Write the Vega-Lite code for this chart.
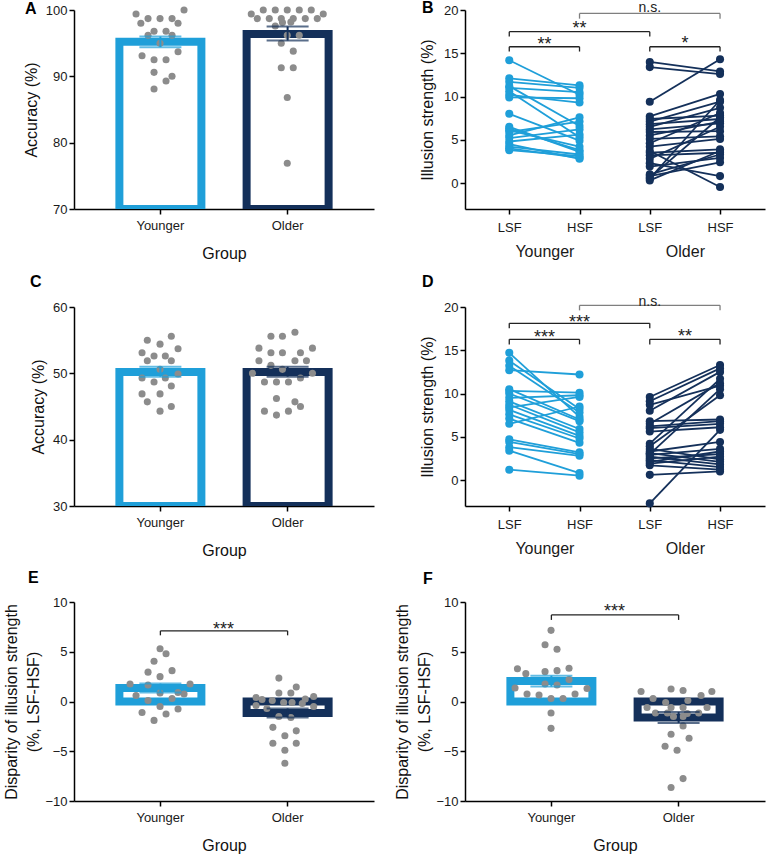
{
"$schema":"https://vega.github.io/schema/vega-lite/v6.json",
"padding":{"left":3,"top":0,"right":4,"bottom":2},
"background":"white",
"config":{"view":{"stroke":null},"font":"Liberation Sans",
 "axis":{"grid":false,"domainColor":"#000","domainWidth":1.5,"tickColor":"#000","tickWidth":1.5,"tickSize":5,"labelColor":"#1a1a1a","labelFontSize":13,"titleFontSize":16,"titleFontWeight":"normal","titleColor":"#111","labelFont":"Liberation Sans","titleFont":"Liberation Sans"},
 "title":{"fontSize":16,"fontWeight":"bold","anchor":"start","frame":"group","color":"#000","font":"Liberation Sans"}},
"datasets":{
"barA":[{"g":"Younger","mean":95.2,"lo":94.4,"hi":96.0},{"g":"Older","mean":96.4,"lo":95.4,"hi":97.5}],
"barC":[{"g":"Younger","mean":50.2,"lo":49.5,"hi":51.0},{"g":"Older","mean":50.2,"lo":49.5,"hi":51.0}],
"barE":[{"g":"Younger","mean":1.35,"lo":0.9,"hi":1.8},{"g":"Older","mean":-1.15,"lo":-1.6,"hi":-0.7}],
"barF":[{"g":"Younger","mean":2.05,"lo":1.5,"hi":2.6},{"g":"Older","mean":-1.6,"lo":-2.15,"hi":-1.05}],
"dotsA":[
{"g":"Younger","s":-2,"v":99.4},{"g":"Younger","s":2,"v":100},{"g":"Younger","s":-1.6,"v":98.0},{"g":"Younger","s":-1,"v":98.7},{"g":"Younger","s":0,"v":98.7},{"g":"Younger","s":1,"v":98.7},{"g":"Younger","s":1.5,"v":98.0},{"g":"Younger","s":-0.5,"v":96.8},{"g":"Younger","s":0.5,"v":96.8},{"g":"Younger","s":-1,"v":96.2},{"g":"Younger","s":1,"v":96.2},{"g":"Younger","s":0,"v":95.0},{"g":"Younger","s":1.5,"v":93.7},{"g":"Younger","s":-1.5,"v":93.1},{"g":"Younger","s":-0.5,"v":92.5},{"g":"Younger","s":0.5,"v":92.5},{"g":"Younger","s":-0.5,"v":90.6},{"g":"Younger","s":1,"v":90.0},{"g":"Younger","s":0.5,"v":89.3},{"g":"Younger","s":-0.5,"v":88.1},
{"g":"Older","s":-3,"v":99.4},{"g":"Older","s":-2,"v":100},{"g":"Older","s":-1,"v":100},{"g":"Older","s":0,"v":100},{"g":"Older","s":1,"v":100},{"g":"Older","s":2,"v":100},{"g":"Older","s":3,"v":99.4},{"g":"Older","s":-2.5,"v":98.7},{"g":"Older","s":-1.5,"v":98.7},{"g":"Older","s":-0.5,"v":98.7},{"g":"Older","s":0.5,"v":98.7},{"g":"Older","s":1.5,"v":98.7},{"g":"Older","s":2.5,"v":98.7},{"g":"Older","s":-1,"v":97.6},{"g":"Older","s":-0.4,"v":98.1},{"g":"Older","s":0.3,"v":98.2},{"g":"Older","s":0,"v":96.2},{"g":"Older","s":1,"v":96.2},{"g":"Older","s":-0.5,"v":95.0},{"g":"Older","s":0.5,"v":93.8},{"g":"Older","s":-0.5,"v":91.3},{"g":"Older","s":0.5,"v":91.3},{"g":"Older","s":0,"v":86.8},{"g":"Older","s":0,"v":76.9}],
"dotsC":[
{"g":"Younger","s":0.94,"v":55.6},{"g":"Younger","s":-1.06,"v":55.0},{"g":"Younger","s":0,"v":54.4},{"g":"Younger","s":1.5,"v":53.7},{"g":"Younger","s":-1.5,"v":53.1},{"g":"Younger","s":-0.5,"v":52.6},{"g":"Younger","s":0.44,"v":52.6},{"g":"Younger","s":-1.06,"v":51.9},{"g":"Younger","s":0.94,"v":51.9},{"g":"Younger","s":0,"v":50.6},{"g":"Younger","s":1.5,"v":49.9},{"g":"Younger","s":-1.5,"v":49.3},{"g":"Younger","s":-0.5,"v":48.7},{"g":"Younger","s":0.44,"v":49.3},{"g":"Younger","s":0.94,"v":48.1},{"g":"Younger","s":-1.5,"v":46.9},{"g":"Younger","s":0,"v":46.9},{"g":"Younger","s":-1.06,"v":45.7},{"g":"Younger","s":0.94,"v":45.0},{"g":"Younger","s":0,"v":44.3},
{"g":"Older","s":0.64,"v":56.2},{"g":"Older","s":-1.36,"v":55.6},{"g":"Older","s":-0.4,"v":55.6},{"g":"Older","s":-2.36,"v":53.8},{"g":"Older","s":-1.36,"v":53.1},{"g":"Older","s":-0.4,"v":53.1},{"g":"Older","s":1.1,"v":53.1},{"g":"Older","s":2.1,"v":53.8},{"g":"Older","s":-2.36,"v":51.9},{"g":"Older","s":-1.36,"v":51.2},{"g":"Older","s":0.64,"v":51.9},{"g":"Older","s":1.6,"v":51.9},{"g":"Older","s":-0.4,"v":50.6},{"g":"Older","s":-2.9,"v":50.0},{"g":"Older","s":2.1,"v":50.0},{"g":"Older","s":-1.9,"v":48.7},{"g":"Older","s":-0.9,"v":48.7},{"g":"Older","s":0.1,"v":48.7},{"g":"Older","s":1.1,"v":49.3},{"g":"Older","s":-0.9,"v":46.2},{"g":"Older","s":0.64,"v":45.7},{"g":"Older","s":1.1,"v":45.0},{"g":"Older","s":-1.9,"v":44.3},{"g":"Older","s":0.1,"v":44.3},{"g":"Older","s":-0.9,"v":43.7}],
"dotsE":[
{"g":"Younger","s":0,"v":5.3},{"g":"Younger","s":0.5,"v":4.8},{"g":"Younger","s":-0.5,"v":4.05},{"g":"Younger","s":-1,"v":2.95},{"g":"Younger","s":1,"v":3.1},{"g":"Younger","s":0,"v":2.5},{"g":"Younger","s":-2.5,"v":1.75},{"g":"Younger","s":-1,"v":1.65},{"g":"Younger","s":2.5,"v":1.75},{"g":"Younger","s":-2,"v":0.6},{"g":"Younger","s":0,"v":0.85},{"g":"Younger","s":1.5,"v":0.9},{"g":"Younger","s":2,"v":0.75},{"g":"Younger","s":1,"v":0.3},{"g":"Younger","s":-1,"v":0.1},{"g":"Younger","s":0,"v":-0.5},{"g":"Younger","s":1.5,"v":-0.75},{"g":"Younger","s":-1.5,"v":-1.1},{"g":"Younger","s":0.5,"v":-1.25},{"g":"Younger","s":-0.5,"v":-1.9},
{"g":"Older","s":-0.7,"v":2.35},{"g":"Older","s":0.75,"v":1.45},{"g":"Older","s":-0.7,"v":0.85},{"g":"Older","s":0.3,"v":0.85},{"g":"Older","s":-2.6,"v":0.4},{"g":"Older","s":2.2,"v":0.5},{"g":"Older","s":-2.1,"v":0.2},{"g":"Older","s":-1.25,"v":0.1},{"g":"Older","s":1.5,"v":0.25},{"g":"Older","s":-0.3,"v":-0.1},{"g":"Older","s":0.4,"v":-0.1},{"g":"Older","s":-2.6,"v":-0.4},{"g":"Older","s":2.2,"v":-0.5},{"g":"Older","s":-1.7,"v":-0.7},{"g":"Older","s":1.25,"v":-0.2},{"g":"Older","s":-0.7,"v":-1.5},{"g":"Older","s":0.3,"v":-1.6},{"g":"Older","s":-1.2,"v":-2.6},{"g":"Older","s":0.75,"v":-2.95},{"g":"Older","s":-0.2,"v":-3.45},{"g":"Older","s":-1.2,"v":-4.2},{"g":"Older","s":0.75,"v":-4.2},{"g":"Older","s":-0.2,"v":-4.9},{"g":"Older","s":-0.2,"v":-6.2}],
"dotsF":[
{"g":"Younger","s":0,"v":7.15},{"g":"Younger","s":-0.5,"v":5.7},{"g":"Younger","s":0.5,"v":5.25},{"g":"Younger","s":-2.8,"v":3.3},{"g":"Younger","s":-2.1,"v":2.8},{"g":"Younger","s":-0.5,"v":3.0},{"g":"Younger","s":0.5,"v":3.1},{"g":"Younger","s":1.5,"v":3.35},{"g":"Younger","s":1.5,"v":2.2},{"g":"Younger","s":-0.5,"v":1.75},{"g":"Younger","s":0.5,"v":1.65},{"g":"Younger","s":-3,"v":1.35},{"g":"Younger","s":3,"v":1.3},{"g":"Younger","s":-2,"v":0.75},{"g":"Younger","s":-1,"v":0.65},{"g":"Younger","s":2,"v":0.75},{"g":"Younger","s":0,"v":0.3},{"g":"Younger","s":1,"v":0.3},{"g":"Younger","s":0,"v":-1.15},{"g":"Younger","s":0,"v":-2.7},
{"g":"Older","s":-3.1,"v":1.0},{"g":"Older","s":-0.6,"v":1.25},{"g":"Older","s":0.4,"v":1.1},{"g":"Older","s":2.8,"v":1.0},{"g":"Older","s":1.9,"v":0.6},{"g":"Older","s":-2.1,"v":0.3},{"g":"Older","s":0.8,"v":0.1},{"g":"Older","s":-1.05,"v":-0.1},{"g":"Older","s":-2.6,"v":-0.6},{"g":"Older","s":-0.6,"v":-0.6},{"g":"Older","s":0.4,"v":-0.6},{"g":"Older","s":2.4,"v":-0.6},{"g":"Older","s":-1.9,"v":-1.15},{"g":"Older","s":-0.9,"v":-1.15},{"g":"Older","s":1.7,"v":-1.15},{"g":"Older","s":0.75,"v":-1.2},{"g":"Older","s":-0.4,"v":-1.5},{"g":"Older","s":0.4,"v":-1.5},{"g":"Older","s":0.4,"v":-2.45},{"g":"Older","s":-0.6,"v":-3.3},{"g":"Older","s":0.9,"v":-3.7},{"g":"Older","s":-1.1,"v":-4.5},{"g":"Older","s":-0.1,"v":-4.9},{"g":"Older","s":0.4,"v":-7.75},{"g":"Older","s":-0.6,"v":-8.65}],
"linesB":[
{"s":"y1","g":"Younger","c":1,"v":14.2},{"s":"y1","g":"Younger","c":2,"v":10.2},
{"s":"y2","g":"Younger","c":1,"v":12.1},{"s":"y2","g":"Younger","c":2,"v":11.3},
{"s":"y3","g":"Younger","c":1,"v":11.7},{"s":"y3","g":"Younger","c":2,"v":11.0},
{"s":"y4","g":"Younger","c":1,"v":11.2},{"s":"y4","g":"Younger","c":2,"v":6.6},
{"s":"y5","g":"Younger","c":1,"v":11.0},{"s":"y5","g":"Younger","c":2,"v":10.5},
{"s":"y6","g":"Younger","c":1,"v":10.6},{"s":"y6","g":"Younger","c":2,"v":5.3},
{"s":"y7","g":"Younger","c":1,"v":10.2},{"s":"y7","g":"Younger","c":2,"v":9.3},
{"s":"y8","g":"Younger","c":1,"v":9.9},{"s":"y8","g":"Younger","c":2,"v":9.8},
{"s":"y9","g":"Younger","c":1,"v":8.0},{"s":"y9","g":"Younger","c":2,"v":4.9},
{"s":"y10","g":"Younger","c":1,"v":6.5},{"s":"y10","g":"Younger","c":2,"v":3.6},
{"s":"y11","g":"Younger","c":1,"v":6.3},{"s":"y11","g":"Younger","c":2,"v":3.8},
{"s":"y12","g":"Younger","c":1,"v":6.1},{"s":"y12","g":"Younger","c":2,"v":4.2},
{"s":"y13","g":"Younger","c":1,"v":5.9},{"s":"y13","g":"Younger","c":2,"v":7.1},
{"s":"y14","g":"Younger","c":1,"v":5.5},{"s":"y14","g":"Younger","c":2,"v":7.6},
{"s":"y15","g":"Younger","c":1,"v":5.2},{"s":"y15","g":"Younger","c":2,"v":6.2},
{"s":"y16","g":"Younger","c":1,"v":4.8},{"s":"y16","g":"Younger","c":2,"v":5.6},
{"s":"y17","g":"Younger","c":1,"v":4.5},{"s":"y17","g":"Younger","c":2,"v":2.8},
{"s":"y18","g":"Younger","c":1,"v":4.2},{"s":"y18","g":"Younger","c":2,"v":3.3},
{"s":"y19","g":"Younger","c":1,"v":4.0},{"s":"y19","g":"Younger","c":2,"v":2.9},
{"s":"y20","g":"Younger","c":1,"v":3.8},{"s":"y20","g":"Younger","c":2,"v":3.1},
{"s":"o1","g":"Older","c":3,"v":14.0},{"s":"o1","g":"Older","c":4,"v":12.9},
{"s":"o2","g":"Older","c":3,"v":13.4},{"s":"o2","g":"Older","c":4,"v":12.6},
{"s":"o3","g":"Older","c":3,"v":9.4},{"s":"o3","g":"Older","c":4,"v":14.3},
{"s":"o4","g":"Older","c":3,"v":7.7},{"s":"o4","g":"Older","c":4,"v":10.3},
{"s":"o5","g":"Older","c":3,"v":7.4},{"s":"o5","g":"Older","c":4,"v":7.8},
{"s":"o6","g":"Older","c":3,"v":7.1},{"s":"o6","g":"Older","c":4,"v":9.4},
{"s":"o7","g":"Older","c":3,"v":6.8},{"s":"o7","g":"Older","c":4,"v":7.4},
{"s":"o8","g":"Older","c":3,"v":6.5},{"s":"o8","g":"Older","c":4,"v":8.7},
{"s":"o9","g":"Older","c":3,"v":6.2},{"s":"o9","g":"Older","c":4,"v":6.9},
{"s":"o10","g":"Older","c":3,"v":5.9},{"s":"o10","g":"Older","c":4,"v":6.0},
{"s":"o11","g":"Older","c":3,"v":5.5},{"s":"o11","g":"Older","c":4,"v":7.1},
{"s":"o12","g":"Older","c":3,"v":5.1},{"s":"o12","g":"Older","c":4,"v":5.4},
{"s":"o13","g":"Older","c":3,"v":4.6},{"s":"o13","g":"Older","c":4,"v":8.1},
{"s":"o14","g":"Older","c":3,"v":4.2},{"s":"o14","g":"Older","c":4,"v":5.1},
{"s":"o15","g":"Older","c":3,"v":3.7},{"s":"o15","g":"Older","c":4,"v":-0.45},
{"s":"o16","g":"Older","c":3,"v":3.5},{"s":"o16","g":"Older","c":4,"v":3.9},
{"s":"o17","g":"Older","c":3,"v":3.2},{"s":"o17","g":"Older","c":4,"v":3.5},
{"s":"o18","g":"Older","c":3,"v":2.8},{"s":"o18","g":"Older","c":4,"v":6.5},
{"s":"o19","g":"Older","c":3,"v":2.3},{"s":"o19","g":"Older","c":4,"v":0.8},
{"s":"o20","g":"Older","c":3,"v":1.9},{"s":"o20","g":"Older","c":4,"v":2.9},
{"s":"o21","g":"Older","c":3,"v":1.0},{"s":"o21","g":"Older","c":4,"v":3.3},
{"s":"o22","g":"Older","c":3,"v":0.8},{"s":"o22","g":"Older","c":4,"v":2.4},
{"s":"o23","g":"Older","c":3,"v":0.5},{"s":"o23","g":"Older","c":4,"v":9.6},
{"s":"o24","g":"Older","c":3,"v":0.3},{"s":"o24","g":"Older","c":4,"v":3.7},
{"s":"o25","g":"Older","c":3,"v":0.6},{"s":"o25","g":"Older","c":4,"v":7.6}],
"linesD":[
{"s":"y1","g":"Younger","c":1,"v":14.7},{"s":"y1","g":"Younger","c":2,"v":7.3},
{"s":"y2","g":"Younger","c":1,"v":13.8},{"s":"y2","g":"Younger","c":2,"v":8.2},
{"s":"y3","g":"Younger","c":1,"v":13.2},{"s":"y3","g":"Younger","c":2,"v":7.8},
{"s":"y4","g":"Younger","c":1,"v":12.7},{"s":"y4","g":"Younger","c":2,"v":12.2},
{"s":"y5","g":"Younger","c":1,"v":10.5},{"s":"y5","g":"Younger","c":2,"v":7.0},
{"s":"y6","g":"Younger","c":1,"v":10.3},{"s":"y6","g":"Younger","c":2,"v":10.1},
{"s":"y7","g":"Younger","c":1,"v":10.0},{"s":"y7","g":"Younger","c":2,"v":6.8},
{"s":"y8","g":"Younger","c":1,"v":9.5},{"s":"y8","g":"Younger","c":2,"v":9.8},
{"s":"y9","g":"Younger","c":1,"v":9.1},{"s":"y9","g":"Younger","c":2,"v":5.9},
{"s":"y10","g":"Younger","c":1,"v":8.7},{"s":"y10","g":"Younger","c":2,"v":5.5},
{"s":"y11","g":"Younger","c":1,"v":8.4},{"s":"y11","g":"Younger","c":2,"v":9.6},
{"s":"y12","g":"Younger","c":1,"v":8.1},{"s":"y12","g":"Younger","c":2,"v":5.1},
{"s":"y13","g":"Younger","c":1,"v":7.6},{"s":"y13","g":"Younger","c":2,"v":4.8},
{"s":"y14","g":"Younger","c":1,"v":7.1},{"s":"y14","g":"Younger","c":2,"v":4.3},
{"s":"y15","g":"Younger","c":1,"v":6.5},{"s":"y15","g":"Younger","c":2,"v":8.5},
{"s":"y16","g":"Younger","c":1,"v":4.7},{"s":"y16","g":"Younger","c":2,"v":3.2},
{"s":"y17","g":"Younger","c":1,"v":4.4},{"s":"y17","g":"Younger","c":2,"v":3.0},
{"s":"y18","g":"Younger","c":1,"v":3.8},{"s":"y18","g":"Younger","c":2,"v":2.8},
{"s":"y19","g":"Younger","c":1,"v":3.4},{"s":"y19","g":"Younger","c":2,"v":0.8},
{"s":"y20","g":"Younger","c":1,"v":1.2},{"s":"y20","g":"Younger","c":2,"v":0.5},
{"s":"o1","g":"Older","c":3,"v":9.6},{"s":"o1","g":"Older","c":4,"v":13.3},
{"s":"o2","g":"Older","c":3,"v":9.1},{"s":"o2","g":"Older","c":4,"v":12.9},
{"s":"o3","g":"Older","c":3,"v":8.7},{"s":"o3","g":"Older","c":4,"v":10.9},
{"s":"o4","g":"Older","c":3,"v":8.0},{"s":"o4","g":"Older","c":4,"v":12.5},
{"s":"o5","g":"Older","c":3,"v":6.8},{"s":"o5","g":"Older","c":4,"v":7.0},
{"s":"o6","g":"Older","c":3,"v":6.5},{"s":"o6","g":"Older","c":4,"v":11.2},
{"s":"o7","g":"Older","c":3,"v":6.2},{"s":"o7","g":"Older","c":4,"v":6.8},
{"s":"o8","g":"Older","c":3,"v":6.0},{"s":"o8","g":"Older","c":4,"v":6.5},
{"s":"o9","g":"Older","c":3,"v":5.6},{"s":"o9","g":"Older","c":4,"v":6.1},
{"s":"o10","g":"Older","c":3,"v":4.2},{"s":"o10","g":"Older","c":4,"v":11.7},
{"s":"o11","g":"Older","c":3,"v":3.9},{"s":"o11","g":"Older","c":4,"v":9.8},
{"s":"o12","g":"Older","c":3,"v":3.6},{"s":"o12","g":"Older","c":4,"v":2.4},
{"s":"o13","g":"Older","c":3,"v":3.3},{"s":"o13","g":"Older","c":4,"v":4.4},
{"s":"o14","g":"Older","c":3,"v":3.1},{"s":"o14","g":"Older","c":4,"v":2.1},
{"s":"o15","g":"Older","c":3,"v":2.9},{"s":"o15","g":"Older","c":4,"v":3.6},
{"s":"o16","g":"Older","c":3,"v":2.7},{"s":"o16","g":"Older","c":4,"v":1.8},
{"s":"o17","g":"Older","c":3,"v":2.5},{"s":"o17","g":"Older","c":4,"v":3.0},
{"s":"o18","g":"Older","c":3,"v":2.3},{"s":"o18","g":"Older","c":4,"v":1.5},
{"s":"o19","g":"Older","c":3,"v":2.1},{"s":"o19","g":"Older","c":4,"v":3.3},
{"s":"o20","g":"Older","c":3,"v":1.9},{"s":"o20","g":"Older","c":4,"v":2.7},
{"s":"o21","g":"Older","c":3,"v":1.7},{"s":"o21","g":"Older","c":4,"v":1.2},
{"s":"o22","g":"Older","c":3,"v":0.6},{"s":"o22","g":"Older","c":4,"v":1.0},
{"s":"o23","g":"Older","c":3,"v":-2.7},{"s":"o23","g":"Older","c":4,"v":5.8},
{"s":"o24","g":"Older","c":3,"v":3.0},{"s":"o24","g":"Older","c":4,"v":10.5}],
"brB":[{"x1":1,"x2":2,"xm":1.5,"y":15.75,"yt":15.2,"ly":16.0,"label":"**"},{"x1":1,"x2":3,"xm":2,"y":17.5,"yt":16.95,"ly":17.8,"label":"**"},{"x1":2,"x2":4,"xm":3,"y":19.6,"yt":19.0,"ly":20.2,"label":"n.s."},{"x1":3,"x2":4,"xm":3.5,"y":15.75,"yt":15.2,"ly":16.1,"label":"*"}],
"brD":[{"x1":1,"x2":2,"xm":1.5,"y":16.26,"yt":15.68,"ly":16.4,"label":"***"},{"x1":1,"x2":3,"xm":2,"y":18.11,"yt":17.53,"ly":18.2,"label":"***"},{"x1":2,"x2":4,"xm":3,"y":20.19,"yt":19.61,"ly":20.6,"label":"n.s."},{"x1":3,"x2":4,"xm":3.5,"y":16.26,"yt":15.68,"ly":16.5,"label":"**"}],
"brE":[{"g":"Younger","g2":"Older","y":7.1,"yt":6.65,"ly":7.2,"label":"***","s":5.29}],
"brF":[{"g":"Younger","g2":"Older","y":8.7,"yt":8.2,"ly":9.0,"label":"***","s":5.29}]
},
"columns":2,
"align":"each",
"spacing":{"row":12,"column":20},
"concat":[
{"width":300,"height":199,"title":{"text":"A","frame":"group","anchor":"start","dx":-49,"offset":-13},
 "layer":[
  {"data":{"name":"barA"},"mark":{"type":"bar","fill":"white","strokeWidth":8,"clip":true,"size":82},
   "encoding":{"x":{"field":"g","type":"nominal","title":"Group","scale":{"domain":["Younger","Older"],"paddingInner":0.35,"paddingOuter":0.354},"axis":{"labelAngle":0,"labelPadding":5,"titlePadding":13}},
    "y":{"field":"mean","type":"quantitative","title":"Accuracy (%)","scale":{"domain":[70,100],"nice":false,"zero":false},"axis":{"values":[70,80,90,100],"titlePadding":6}},
    "y2":{"datum":70},
    "stroke":{"field":"g","type":"nominal","scale":{"domain":["Younger","Older"],"range":["#1f9fd9","#14305a"]},"legend":null}}},
  {"data":{"name":"dotsA"},"mark":{"type":"circle","size":50,"color":"#8c8c8c","opacity":1},
   "encoding":{"x":{"field":"g","type":"nominal","title":"Group"},"xOffset":{"field":"s","type":"quantitative","scale":{"domain":[-5,5],"range":[-19,101]}},"y":{"field":"v","type":"quantitative","title":"Accuracy (%)"}}},
  {"data":{"name":"barA"},"mark":{"type":"rule","strokeWidth":2},
   "encoding":{"x":{"field":"g","type":"nominal","title":"Group"},"y":{"field":"lo","type":"quantitative","title":"Accuracy (%)"},"y2":{"field":"hi"},
    "color":{"field":"g","type":"nominal","scale":{"domain":["Younger","Older"],"range":["#1f9fd9","#14305a"]},"legend":null}}},
  {"data":{"name":"barA"},"mark":{"type":"tick","orient":"horizontal","size":42,"thickness":2},
   "encoding":{"x":{"field":"g","type":"nominal","title":"Group"},"y":{"field":"lo","type":"quantitative","title":"Accuracy (%)"},"color":{"field":"g","type":"nominal","legend":null}}},
  {"data":{"name":"barA"},"mark":{"type":"tick","orient":"horizontal","size":42,"thickness":2},
   "encoding":{"x":{"field":"g","type":"nominal","title":"Group"},"y":{"field":"hi","type":"quantitative","title":"Accuracy (%)"},"color":{"field":"g","type":"nominal","legend":null}}}
 ]},
{"width":300,"height":199,"title":{"text":"B","frame":"group","anchor":"start","dx":-43,"offset":-15},
 "layer":[
  {"data":{"name":"linesB"},"mark":{"type":"line","strokeWidth":1.8},
   "encoding":{"x":{"field":"c","type":"quantitative","title":null,"scale":{"domain":[0.37,4.64],"nice":false,"zero":false},
     "axis":{"values":[1,1.5,2,3,3.5,4],"labelExpr":"datum.value==1||datum.value==3?'LSF':(datum.value==2||datum.value==4?'HSF':(datum.value==1.5?'Younger':'Older'))","labelFontSize":{"condition":{"test":"datum.value==1.5||datum.value==3.5","value":16},"value":13},"labelPadding":{"condition":{"test":"datum.value==1.5||datum.value==3.5","value":29},"value":7},"tickOpacity":{"condition":{"test":"datum.value==1.5||datum.value==3.5","value":0},"value":1},"labelOverlap":false,"labelFlush":false}},
    "y":{"field":"v","type":"quantitative","title":"Illusion strength (%)","scale":{"domain":[-3,20],"nice":false,"zero":false},"axis":{"values":[0,5,10,15,20],"titlePadding":8}},
    "detail":{"field":"s"},
    "color":{"field":"g","type":"nominal","scale":{"domain":["Younger","Older"],"range":["#1f9fd9","#14305a"]},"legend":null}}},
  {"data":{"name":"linesB"},"mark":{"type":"circle","size":65,"opacity":1},
   "encoding":{"x":{"field":"c","type":"quantitative","title":null},"y":{"field":"v","type":"quantitative","title":"Illusion strength (%)"},"color":{"field":"g","type":"nominal","legend":null}}},
  {"data":{"name":"brB"},"mark":{"type":"rule","strokeWidth":1.3},
   "encoding":{"x":{"field":"x1","type":"quantitative","title":null},"x2":{"field":"x2"},"y":{"field":"y","type":"quantitative","title":"Illusion strength (%)"},"stroke":{"condition":{"test":"datum.label=='n.s.'","value":"#7f7f7f"},"value":"#222"}}},
  {"data":{"name":"brB"},"mark":{"type":"rule","strokeWidth":1.3},
   "encoding":{"x":{"field":"x1","type":"quantitative","title":null},"y":{"field":"y","type":"quantitative","title":"Illusion strength (%)"},"y2":{"field":"yt"},"stroke":{"condition":{"test":"datum.label=='n.s.'","value":"#7f7f7f"},"value":"#222"}}},
  {"data":{"name":"brB"},"mark":{"type":"rule","strokeWidth":1.3},
   "encoding":{"x":{"field":"x2","type":"quantitative","title":null},"y":{"field":"y","type":"quantitative","title":"Illusion strength (%)"},"y2":{"field":"yt"},"stroke":{"condition":{"test":"datum.label=='n.s.'","value":"#7f7f7f"},"value":"#222"}}},
  {"data":{"name":"brB"},"mark":{"type":"text","baseline":"middle","align":"center","color":"#222"},
   "encoding":{"x":{"field":"xm","type":"quantitative","title":null},"y":{"field":"ly","type":"quantitative","title":"Illusion strength (%)"},"text":{"field":"label"},"size":{"condition":{"test":"datum.label=='n.s.'","value":14},"value":18}}}
 ]},
{"width":300,"height":199,"title":{"text":"C","frame":"group","anchor":"start","dx":-44,"offset":11},
 "layer":[
  {"data":{"name":"barC"},"mark":{"type":"bar","fill":"white","strokeWidth":8,"clip":true,"size":82},
   "encoding":{"x":{"field":"g","type":"nominal","title":"Group","scale":{"domain":["Younger","Older"],"paddingInner":0.35,"paddingOuter":0.354},"axis":{"labelAngle":0,"labelPadding":5,"titlePadding":13}},
    "y":{"field":"mean","type":"quantitative","title":"Accuracy (%)","scale":{"domain":[30,60],"nice":false,"zero":false},"axis":{"values":[30,40,50,60],"titlePadding":6}},
    "y2":{"datum":30},
    "stroke":{"field":"g","type":"nominal","scale":{"domain":["Younger","Older"],"range":["#1f9fd9","#14305a"]},"legend":null}}},
  {"data":{"name":"dotsC"},"mark":{"type":"circle","size":50,"color":"#8c8c8c","opacity":1},
   "encoding":{"x":{"field":"g","type":"nominal","title":"Group"},"xOffset":{"field":"s","type":"quantitative","scale":{"domain":[-5,5],"range":[-19,101]}},"y":{"field":"v","type":"quantitative","title":"Accuracy (%)"}}},
  {"data":{"name":"barC"},"mark":{"type":"rule","strokeWidth":2},
   "encoding":{"x":{"field":"g","type":"nominal","title":"Group"},"y":{"field":"lo","type":"quantitative","title":"Accuracy (%)"},"y2":{"field":"hi"},
    "color":{"field":"g","type":"nominal","scale":{"domain":["Younger","Older"],"range":["#1f9fd9","#14305a"]},"legend":null}}},
  {"data":{"name":"barC"},"mark":{"type":"tick","orient":"horizontal","size":42,"thickness":2},
   "encoding":{"x":{"field":"g","type":"nominal","title":"Group"},"y":{"field":"lo","type":"quantitative","title":"Accuracy (%)"},"color":{"field":"g","type":"nominal","legend":null}}},
  {"data":{"name":"barC"},"mark":{"type":"tick","orient":"horizontal","size":42,"thickness":2},
   "encoding":{"x":{"field":"g","type":"nominal","title":"Group"},"y":{"field":"hi","type":"quantitative","title":"Accuracy (%)"},"color":{"field":"g","type":"nominal","legend":null}}}
 ]},
{"width":300,"height":199,"title":{"text":"D","frame":"group","anchor":"start","dx":-43,"offset":5},
 "layer":[
  {"data":{"name":"linesD"},"mark":{"type":"line","strokeWidth":1.8},
   "encoding":{"x":{"field":"c","type":"quantitative","title":null,"scale":{"domain":[0.37,4.64],"nice":false,"zero":false},
     "axis":{"values":[1,1.5,2,3,3.5,4],"labelExpr":"datum.value==1||datum.value==3?'LSF':(datum.value==2||datum.value==4?'HSF':(datum.value==1.5?'Younger':'Older'))","labelFontSize":{"condition":{"test":"datum.value==1.5||datum.value==3.5","value":16},"value":13},"labelPadding":{"condition":{"test":"datum.value==1.5||datum.value==3.5","value":29},"value":7},"tickOpacity":{"condition":{"test":"datum.value==1.5||datum.value==3.5","value":0},"value":1},"labelOverlap":false,"labelFlush":false}},
    "y":{"field":"v","type":"quantitative","title":"Illusion strength (%)","scale":{"domain":[-3,20],"nice":false,"zero":false},"axis":{"values":[0,5,10,15,20],"titlePadding":8}},
    "detail":{"field":"s"},
    "color":{"field":"g","type":"nominal","scale":{"domain":["Younger","Older"],"range":["#1f9fd9","#14305a"]},"legend":null}}},
  {"data":{"name":"linesD"},"mark":{"type":"circle","size":65,"opacity":1},
   "encoding":{"x":{"field":"c","type":"quantitative","title":null},"y":{"field":"v","type":"quantitative","title":"Illusion strength (%)"},"color":{"field":"g","type":"nominal","legend":null}}},
  {"data":{"name":"brD"},"mark":{"type":"rule","strokeWidth":1.3},
   "encoding":{"x":{"field":"x1","type":"quantitative","title":null},"x2":{"field":"x2"},"y":{"field":"y","type":"quantitative","title":"Illusion strength (%)"},"stroke":{"condition":{"test":"datum.label=='n.s.'","value":"#7f7f7f"},"value":"#222"}}},
  {"data":{"name":"brD"},"mark":{"type":"rule","strokeWidth":1.3},
   "encoding":{"x":{"field":"x1","type":"quantitative","title":null},"y":{"field":"y","type":"quantitative","title":"Illusion strength (%)"},"y2":{"field":"yt"},"stroke":{"condition":{"test":"datum.label=='n.s.'","value":"#7f7f7f"},"value":"#222"}}},
  {"data":{"name":"brD"},"mark":{"type":"rule","strokeWidth":1.3},
   "encoding":{"x":{"field":"x2","type":"quantitative","title":null},"y":{"field":"y","type":"quantitative","title":"Illusion strength (%)"},"y2":{"field":"yt"},"stroke":{"condition":{"test":"datum.label=='n.s.'","value":"#7f7f7f"},"value":"#222"}}},
  {"data":{"name":"brD"},"mark":{"type":"text","baseline":"middle","align":"center","color":"#222"},
   "encoding":{"x":{"field":"xm","type":"quantitative","title":null},"y":{"field":"ly","type":"quantitative","title":"Illusion strength (%)"},"text":{"field":"label"},"size":{"condition":{"test":"datum.label=='n.s.'","value":14},"value":18}}}
 ]},
{"width":300,"height":199,"title":{"text":"E","frame":"group","anchor":"start","dx":-46,"offset":10},
 "layer":[
  {"data":{"name":"barE"},"mark":{"type":"bar","fill":"white","strokeWidth":8,"clip":true,"size":82},
   "encoding":{"x":{"field":"g","type":"nominal","title":"Group","scale":{"domain":["Younger","Older"],"paddingInner":0.35,"paddingOuter":0.354},"axis":{"labelAngle":0,"labelPadding":5,"titlePadding":13}},
    "y":{"field":"mean","type":"quantitative","title":["Disparity of illusion strength","(%, LSF-HSF)"],"scale":{"domain":[-10,10],"nice":false,"zero":false},"axis":{"values":[-10,-5,0,5,10],"titlePadding":3,"titleLineHeight":22}},
    "y2":{"datum":0},
    "stroke":{"field":"g","type":"nominal","scale":{"domain":["Younger","Older"],"range":["#1f9fd9","#14305a"]},"legend":null}}},
  {"mark":{"type":"rule","color":"#000","strokeWidth":1.6},"encoding":{"y":{"datum":0,"type":"quantitative","title":["Disparity of illusion strength","(%, LSF-HSF)"]}}},
  {"data":{"name":"dotsE"},"mark":{"type":"circle","size":50,"color":"#8c8c8c","opacity":1},
   "encoding":{"x":{"field":"g","type":"nominal","title":"Group"},"xOffset":{"field":"s","type":"quantitative","scale":{"domain":[-5,5],"range":[-19,101]}},"y":{"field":"v","type":"quantitative","title":["Disparity of illusion strength","(%, LSF-HSF)"]}}},
  {"data":{"name":"barE"},"mark":{"type":"rule","strokeWidth":2},
   "encoding":{"x":{"field":"g","type":"nominal","title":"Group"},"y":{"field":"lo","type":"quantitative","title":["Disparity of illusion strength","(%, LSF-HSF)"]},"y2":{"field":"hi"},
    "color":{"field":"g","type":"nominal","scale":{"domain":["Younger","Older"],"range":["#1f9fd9","#14305a"]},"legend":null}}},
  {"data":{"name":"barE"},"mark":{"type":"tick","orient":"horizontal","size":42,"thickness":2},
   "encoding":{"x":{"field":"g","type":"nominal","title":"Group"},"y":{"field":"lo","type":"quantitative","title":["Disparity of illusion strength","(%, LSF-HSF)"]},"color":{"field":"g","type":"nominal","legend":null}}},
  {"data":{"name":"barE"},"mark":{"type":"tick","orient":"horizontal","size":42,"thickness":2},
   "encoding":{"x":{"field":"g","type":"nominal","title":"Group"},"y":{"field":"hi","type":"quantitative","title":["Disparity of illusion strength","(%, LSF-HSF)"]},"color":{"field":"g","type":"nominal","legend":null}}},
  {"data":{"name":"brE"},"mark":{"type":"rule","strokeWidth":1.3,"color":"#222"},
   "encoding":{"x":{"field":"g","type":"nominal","title":"Group"},"x2":{"field":"g2"},"y":{"field":"y","type":"quantitative","title":["Disparity of illusion strength","(%, LSF-HSF)"]}}},
  {"data":{"name":"brE"},"mark":{"type":"rule","strokeWidth":1.3,"color":"#222"},
   "encoding":{"x":{"field":"g","type":"nominal","title":"Group"},"y":{"field":"y","type":"quantitative","title":["Disparity of illusion strength","(%, LSF-HSF)"]},"y2":{"field":"yt"}}},
  {"data":{"name":"brE"},"mark":{"type":"rule","strokeWidth":1.3,"color":"#222"},
   "encoding":{"x":{"field":"g2","type":"nominal","title":"Group"},"y":{"field":"y","type":"quantitative","title":["Disparity of illusion strength","(%, LSF-HSF)"]},"y2":{"field":"yt"}}},
  {"data":{"name":"brE"},"mark":{"type":"text","baseline":"middle","align":"center","color":"#222","fontSize":18},
   "encoding":{"x":{"field":"g","type":"nominal","title":"Group"},"xOffset":{"field":"s","type":"quantitative","scale":{"domain":[-5,5],"range":[-19,101]}},"y":{"field":"ly","type":"quantitative","title":["Disparity of illusion strength","(%, LSF-HSF)"]},"text":{"field":"label"}}}
 ]},
{"width":300,"height":199,"title":{"text":"F","frame":"group","anchor":"start","dx":-42,"offset":9},
 "layer":[
  {"data":{"name":"barF"},"mark":{"type":"bar","fill":"white","strokeWidth":8,"clip":true,"size":82},
   "encoding":{"x":{"field":"g","type":"nominal","title":"Group","scale":{"domain":["Younger","Older"],"paddingInner":0.35,"paddingOuter":0.354},"axis":{"labelAngle":0,"labelPadding":5,"titlePadding":13}},
    "y":{"field":"mean","type":"quantitative","title":["Disparity of illusion strength","(%, LSF-HSF)"],"scale":{"domain":[-10,10],"nice":false,"zero":false},"axis":{"values":[-10,-5,0,5,10],"titlePadding":3,"titleLineHeight":22}},
    "y2":{"datum":0},
    "stroke":{"field":"g","type":"nominal","scale":{"domain":["Younger","Older"],"range":["#1f9fd9","#14305a"]},"legend":null}}},
  {"mark":{"type":"rule","color":"#000","strokeWidth":1.6},"encoding":{"y":{"datum":0,"type":"quantitative","title":["Disparity of illusion strength","(%, LSF-HSF)"]}}},
  {"data":{"name":"dotsF"},"mark":{"type":"circle","size":50,"color":"#8c8c8c","opacity":1},
   "encoding":{"x":{"field":"g","type":"nominal","title":"Group"},"xOffset":{"field":"s","type":"quantitative","scale":{"domain":[-5,5],"range":[-19,101]}},"y":{"field":"v","type":"quantitative","title":["Disparity of illusion strength","(%, LSF-HSF)"]}}},
  {"data":{"name":"barF"},"mark":{"type":"rule","strokeWidth":2},
   "encoding":{"x":{"field":"g","type":"nominal","title":"Group"},"y":{"field":"lo","type":"quantitative","title":["Disparity of illusion strength","(%, LSF-HSF)"]},"y2":{"field":"hi"},
    "color":{"field":"g","type":"nominal","scale":{"domain":["Younger","Older"],"range":["#1f9fd9","#14305a"]},"legend":null}}},
  {"data":{"name":"barF"},"mark":{"type":"tick","orient":"horizontal","size":42,"thickness":2},
   "encoding":{"x":{"field":"g","type":"nominal","title":"Group"},"y":{"field":"lo","type":"quantitative","title":["Disparity of illusion strength","(%, LSF-HSF)"]},"color":{"field":"g","type":"nominal","legend":null}}},
  {"data":{"name":"barF"},"mark":{"type":"tick","orient":"horizontal","size":42,"thickness":2},
   "encoding":{"x":{"field":"g","type":"nominal","title":"Group"},"y":{"field":"hi","type":"quantitative","title":["Disparity of illusion strength","(%, LSF-HSF)"]},"color":{"field":"g","type":"nominal","legend":null}}},
  {"data":{"name":"brF"},"mark":{"type":"rule","strokeWidth":1.3,"color":"#222"},
   "encoding":{"x":{"field":"g","type":"nominal","title":"Group"},"x2":{"field":"g2"},"y":{"field":"y","type":"quantitative","title":["Disparity of illusion strength","(%, LSF-HSF)"]}}},
  {"data":{"name":"brF"},"mark":{"type":"rule","strokeWidth":1.3,"color":"#222"},
   "encoding":{"x":{"field":"g","type":"nominal","title":"Group"},"y":{"field":"y","type":"quantitative","title":["Disparity of illusion strength","(%, LSF-HSF)"]},"y2":{"field":"yt"}}},
  {"data":{"name":"brF"},"mark":{"type":"rule","strokeWidth":1.3,"color":"#222"},
   "encoding":{"x":{"field":"g2","type":"nominal","title":"Group"},"y":{"field":"y","type":"quantitative","title":["Disparity of illusion strength","(%, LSF-HSF)"]},"y2":{"field":"yt"}}},
  {"data":{"name":"brF"},"mark":{"type":"text","baseline":"middle","align":"center","color":"#222","fontSize":18},
   "encoding":{"x":{"field":"g","type":"nominal","title":"Group"},"xOffset":{"field":"s","type":"quantitative","scale":{"domain":[-5,5],"range":[-19,101]}},"y":{"field":"ly","type":"quantitative","title":["Disparity of illusion strength","(%, LSF-HSF)"]},"text":{"field":"label"}}}
 ]}
]
}
